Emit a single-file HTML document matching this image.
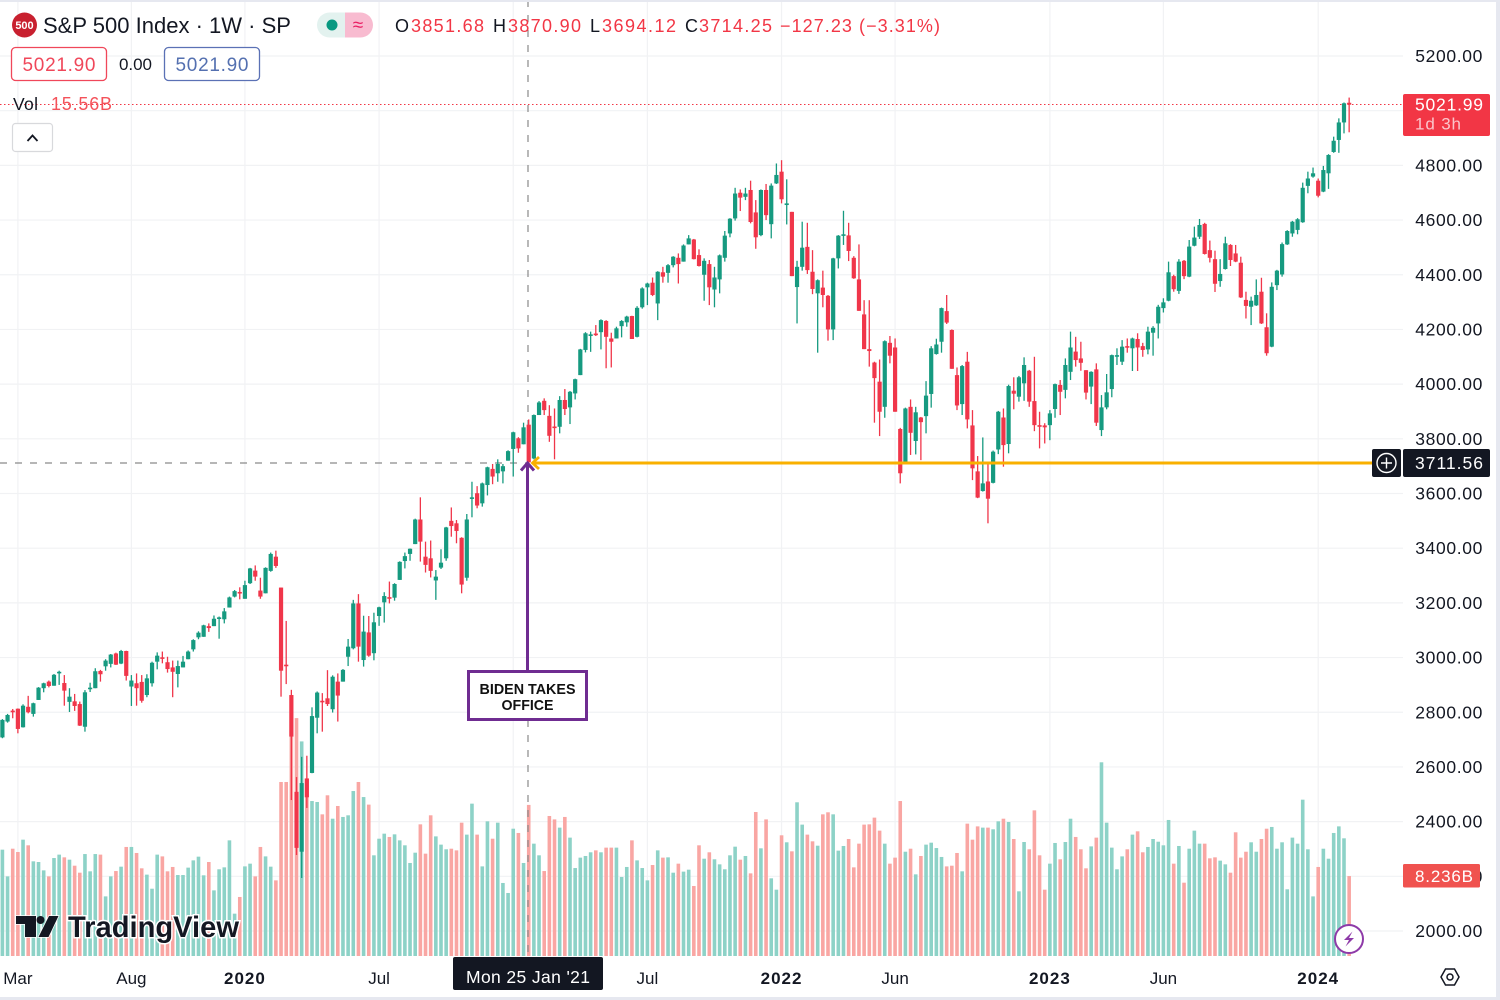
<!DOCTYPE html>
<html lang="en">
<head>
<meta charset="utf-8">
<title>S&amp;P 500 Index weekly chart</title>
<style>
html,body{margin:0;padding:0;background:#fff;width:1500px;height:1000px;overflow:hidden}
svg{display:block}
text{font-family:"Liberation Sans",sans-serif}
</style>
</head>
<body>
<svg id="chart" xmlns="http://www.w3.org/2000/svg" width="1500" height="1000" viewBox="0 0 1500 1000">
  <rect x="0" y="0" width="1500" height="1000" fill="#ffffff"/>
  <g id="grid"></g>
  <g id="volumes"></g>
  <g id="ylabels"></g>
  <g id="xlabels"></g>

  <line x1="528" y1="0" x2="528" y2="956" stroke="#8a8a8a" stroke-width="1.2" stroke-dasharray="7 8"/>
  <line x1="0" y1="463" x2="528" y2="463" stroke="#8a8a8a" stroke-width="1.2" stroke-dasharray="7 8"/>
  <line x1="0" y1="104.5" x2="1403" y2="104.5" stroke="#f23645" stroke-width="1" stroke-dasharray="1.5 2.5"/>

  <g id="candles"></g>

  <g>
    <circle cx="24.5" cy="25" r="12.5" fill="#c8202f"/>
    <text x="24.5" y="29" font-size="11" font-weight="bold" fill="#fff" text-anchor="middle">500</text>
    <text x="43" y="33" font-size="22" fill="#131722" textLength="248" lengthAdjust="spacingAndGlyphs">S&amp;P 500 Index · 1W · SP</text>
    <path d="M345 12.5H329.500a12.500 12.500 0 0 0 0 25H345Z" fill="#e3f2ef"/>
    <path d="M345 12.500H360.500a12.500 12.500 0 0 1 0 25H345Z" fill="#f8bbd0"/>
    <circle cx="332" cy="25" r="5.500" fill="#089981"/>
    <text x="358" y="31" font-size="19" fill="#e91e63" text-anchor="middle">≈</text>

    <text x="395" y="32" font-size="18" fill="#131722">O</text>
    <text x="411" y="32" font-size="18" fill="#f23645" textLength="73">3851.68</text>
    <text x="493" y="32" font-size="18" fill="#131722">H</text>
    <text x="508" y="32" font-size="18" fill="#f23645" textLength="73">3870.90</text>
    <text x="590" y="32" font-size="18" fill="#131722">L</text>
    <text x="602" y="32" font-size="18" fill="#f23645" textLength="74">3694.12</text>
    <text x="685" y="32" font-size="18" fill="#131722">C</text>
    <text x="699" y="32" font-size="18" fill="#f23645" textLength="73">3714.25</text>
    <text x="780" y="32" font-size="18" fill="#f23645" textLength="160">−127.23 (−3.31%)</text>

    <rect x="11.500" y="47.500" width="95" height="33" rx="4" fill="#fff" stroke="#f0475a" stroke-width="1.300"/>
    <text x="59" y="71" font-size="19" fill="#f0475a" text-anchor="middle" textLength="73">5021.90</text>
    <text x="119" y="70" font-size="17" fill="#131722" textLength="33">0.00</text>
    <rect x="164.500" y="47.500" width="95" height="33" rx="4" fill="#fff" stroke="#5b71b5" stroke-width="1.300"/>
    <text x="212" y="71" font-size="19" fill="#5470b0" text-anchor="middle" textLength="73">5021.90</text>

    <text x="13" y="110" font-size="17.500" fill="#131722" textLength="25">Vol</text>
    <text x="51" y="110" font-size="18" fill="#f4525a" textLength="61">15.56B</text>

    <rect x="12.500" y="123.500" width="40" height="28" rx="3" fill="#fff" stroke="#d8d9dc" stroke-width="1.200"/>
    <path d="M27.500 141 L32.500 135.500 L37.500 141" fill="none" stroke="#131722" stroke-width="1.800"/>
  </g>

  <g>
    <line x1="533" y1="463" x2="1373" y2="463" stroke="#f9b000" stroke-width="3"/>
    <path d="M539 457 L532.500 463 L539 469" fill="none" stroke="#f9b000" stroke-width="2.800"/>
  </g>
  <g>
    <line x1="527.500" y1="671" x2="527.500" y2="463" stroke="#6f2c91" stroke-width="3"/>
    <path d="M521 470.500 L527.500 463 L534 470.500" fill="none" stroke="#6f2c91" stroke-width="3"/>
    <rect x="468.500" y="671.500" width="118" height="48" fill="#fff" stroke="#6f2c91" stroke-width="3"/>
    <text x="527.500" y="694" font-size="15" font-weight="bold" fill="#111" text-anchor="middle" textLength="96" lengthAdjust="spacingAndGlyphs">BIDEN TAKES</text>
    <text x="527.500" y="710" font-size="15" font-weight="bold" fill="#111" text-anchor="middle" textLength="52" lengthAdjust="spacingAndGlyphs">OFFICE</text>
  </g>

  <g>
    <rect x="1403" y="94" width="87" height="42" rx="2" fill="#f23645"/>
    <text x="1415" y="110.500" font-size="17.500" fill="#fff" textLength="68">5021.99</text>
    <text x="1415" y="129.500" font-size="17" fill="#fbc4ca" textLength="46">1d 3h</text>
  </g>

  <g>
    <rect x="1372" y="449" width="29" height="28" rx="2" fill="#131722"/>
    <circle cx="1386.500" cy="463" r="9.500" fill="none" stroke="#fff" stroke-width="1.400"/>
    <path d="M1386.500 457.500V468.500M1381 463H1392" stroke="#fff" stroke-width="1.400"/>
    <rect x="1403" y="449" width="87" height="28" rx="2" fill="#131722"/>
    <text x="1415" y="469" font-size="17.500" fill="#fff" textLength="68">3711.56</text>
  </g>

  <g>
    <rect x="1403" y="864" width="77" height="23.500" rx="1.500" fill="#f0524f"/>
    <text x="1415" y="882" font-size="17" fill="#fff" textLength="58">8.236B</text>
  </g>

  <g>
    <path d="M16 916H36V937H25V924H16Z" fill="#131722" stroke="#fff" stroke-width="1.500" paint-order="stroke"/>
    <circle cx="40.500" cy="920" r="4" fill="#131722"/>
    <path d="M49 916H58.500L48.500 937H38.500Z" fill="#131722" stroke="#fff" stroke-width="1.500" paint-order="stroke"/>
    <text x="68" y="937" font-size="30" font-weight="bold" fill="#131722" stroke="#fff" stroke-width="3" paint-order="stroke" textLength="171" lengthAdjust="spacingAndGlyphs">TradingView</text>
  </g>

  <g>
    <rect x="453" y="957" width="150" height="33" rx="2" fill="#131722"/>
    <text x="528" y="983" font-size="17.500" fill="#fff" text-anchor="middle" textLength="124">Mon 25 Jan '21</text>
  </g>

  <g>
    <circle cx="1349" cy="939" r="14" fill="#fff" stroke="#8e3aa8" stroke-width="2"/>
    <path d="M1352.500 931.500 L1344 940 L1349 940 L1345.500 946.500 L1354 938 L1349 938 Z" fill="#8e3aa8"/>
  </g>
  <g>
    <path d="M1441 977 L1445.500 969 H1454.500 L1459 977 L1454.500 985 H1445.500 Z" fill="none" stroke="#131722" stroke-width="1.500"/>
    <circle cx="1450" cy="977" r="3" fill="none" stroke="#131722" stroke-width="1.500"/>
  </g>

  <rect x="0" y="0" width="1500" height="2" fill="#e6e8f0"/>
  <rect x="1496" y="0" width="4" height="1000" fill="#e6e8f0"/>
  <rect x="0" y="997" width="1500" height="3" fill="#e6e8f0"/>
</svg>

<script>
const priceTicks = [2000,2200,2400,2600,2800,3000,3200,3400,3600,3800,4000,4200,4400,4600,4800,5000,5200];
const timeTickBars = [3,25,47,73,99,125,151,173,203,225,255];
const timeTickLabels = ["Mar","Aug","2020","Jul","2021","Jul","2022","Jun","2023","Jun","2024"];
const timeTickBold = [false,false,true,false,true,false,true,false,true,false,true];

const opens = [
2708,2766,2806,2813,2745,2820,2794,2845,2888,2912,
2897,2945,2907,2838,2840,2830,2747,2886,2888,2951,
2968,2977,3015,2978,3024,2894,2906,2911,2863,2906,
2985,3001,2983,2964,2940,2964,2994,3030,3074,3076,
3115,3115,3144,3140,3183,3223,3240,3215,3272,3318,
3245,3235,3317,3369,3256,2974,2863,2509,2290,2558,
2578,2780,2842,2851,2811,2912,2912,3003,3034,3198,
2991,3092,3016,3152,3202,3221,3219,3284,3353,3379,
3415,3505,3369,3363,3282,3329,3363,3500,3491,3438,
3292,3582,3601,3564,3631,3690,3674,3681,3720,3763,
3802,3780,3851.68,3728,3887,3939,3884,3845,3844,3942,
3915,3966,4033,4125,4178,4185,4190,4231,4167,4167,
4212,4226,4249,4173,4281,4354,4371,4295,4409,4407,
4435,4462,4448,4511,4529,4472,4400,4439,4346,4383,
4462,4551,4606,4700,4685,4710,4628,4545,4710,4585,
4734,4777,4655,4630,4355,4429,4502,4411,4332,4353,
4323,4200,4460,4544,4544,4462,4383,4255,4128,4079,
4009,3917,4151,4134,3836,3716,3917,3792,3878,3883,
3964,4110,4155,4267,4198,4033,3927,4082,3849,3681,
3609,3644,3639,3761,3878,3781,3976,3954,4003,4049,
3938,3850,3849,3850,3909,3997,3979,4045,4119,4094,
4051,3991,4054,3832,3915,3982,4103,4082,4139,4131,
4165,4139,4127,4188,4222,4278,4305,4395,4341,4451,
4393,4506,4539,4586,4490,4457,4377,4421,4509,4478,
4444,4308,4283,4288,4338,4208,4137,4362,4401,4511,
4551,4564,4592,4725,4759,4744,4704,4771,4849,4893,
4957,5029];

const highs = [
2775,2794,2812,2814,2829,2860,2835,2892,2908,2916,
2940,2952,2936,2888,2867,2839,2881,2908,2961,2955,
2994,3013,3018,3028,3025,2936,2942,2936,2939,2985,
3019,3022,3003,2989,2989,3006,3026,3067,3096,3120,
3125,3154,3150,3181,3223,3247,3257,3281,3328,3337,
3292,3330,3384,3391,3256,3134,2882,2563,2637,2641,
2818,2876,2870,2954,2935,2942,2958,3068,3211,3232,
3153,3152,3164,3186,3239,3278,3272,3352,3384,3399,
3508,3586,3424,3428,3320,3396,3478,3549,3503,3440,
3525,3643,3627,3640,3698,3708,3725,3708,3758,3826,
3806,3859,3870.9,3889,3938,3948,3923,3911,3956,3982,
3975,4020,4129,4190,4192,4216,4237,4234,4188,4210,
4234,4250,4250,4285,4354,4371,4390,4413,4429,4439,
4468,4478,4511,4545,4531,4493,4460,4454,4429,4474,
4560,4607,4718,4712,4718,4744,4673,4712,4732,4734,
4807,4819,4749,4630,4451,4594,4590,4490,4383,4415,
4326,4462,4545,4634,4590,4468,4511,4307,4307,4082,
4090,4160,4176,4167,3840,3914,3944,3917,3880,4011,
4139,4166,4280,4326,4200,4061,4070,4118,3905,3737,
3805,3708,3757,3902,3911,3998,4025,4030,4098,4052,
4100,3899,3857,3905,4002,4015,4094,4192,4173,4155,
4051,4047,4076,3960,4037,4108,4131,4161,4167,4170,
4186,4151,4210,4212,4290,4314,4448,4400,4457,4454,
4527,4576,4604,4590,4525,4488,4457,4539,4512,4509,
4466,4338,4320,4383,4389,4259,4372,4418,4518,4563,
4597,4607,4737,4777,4792,4752,4798,4841,4905,4972,
5030,5048];

const lows = [
2705,2762,2778,2723,2744,2796,2784,2845,2873,2891,
2897,2900,2824,2801,2805,2750,2729,2874,2888,2912,
2952,2964,2973,2976,2916,2823,2824,2835,2855,2894,
2957,2979,2945,2855,2891,2964,2994,3022,3067,3076,
3094,3115,3069,3125,3183,3220,3213,3215,3269,3281,
3215,3235,3314,3328,2857,2903,2479,2278,2194,2450,
2577,2723,2729,2823,2799,2766,2912,2969,3030,2985,
2967,3003,2990,3116,3128,3198,3208,3284,3326,3354,
3415,3351,3311,3293,3211,3324,3354,3442,3418,3235,
3281,3513,3546,3552,3593,3634,3643,3637,3720,3662,
3749,3780,3694.12,3725,3887,3887,3789,3725,3820,3887,
3854,3944,4033,4116,4118,4176,4127,4058,4061,4167,
4171,4210,4165,4171,4276,4289,4322,4234,4371,4371,
4427,4368,4448,4511,4456,4430,4305,4289,4281,4332,
4448,4537,4598,4633,4673,4588,4495,4541,4600,4533,
4732,4661,4584,4395,4222,4415,4403,4329,4115,4281,
4159,4161,4423,4509,4450,4385,4268,4128,4064,3859,
3810,3877,4076,3899,3637,3711,3741,3743,3722,3820,
3914,4108,4115,4220,4056,3905,3887,3838,3649,3583,
3607,3491,3637,3744,3698,3747,3908,3936,3939,3917,
3828,3765,3783,3795,3877,3887,3948,4015,4064,4049,
3944,3927,3847,3810,3908,3952,4070,4070,4115,4048,
4048,4100,4109,4104,4167,4262,4303,4338,4330,4384,
4391,4504,4531,4474,4445,4337,4356,4419,4432,4446,
4315,4240,4216,4286,4220,4104,4135,4344,4393,4509,
4539,4548,4590,4698,4755,4683,4702,4714,4846,4846,
4917,4921];

const closes = [
2772,2790,2800,2739,2824,2800,2833,2890,2906,2896,
2937,2948,2879,2857,2823,2751,2873,2890,2950,2939,
2989,3011,2974,3024,2933,2916,2888,2842,2924,2981,
3007,2997,2958,2948,2969,2985,3022,3064,3091,3118,
3108,3142,3147,3169,3220,3243,3235,3265,3326,3296,
3223,3328,3379,3335,2952,2970,2711,2304,2541,2489,
2786,2872,2838,2830,2930,2861,2955,3040,3198,3040,
3095,3007,3129,3184,3225,3215,3269,3350,3371,3398,
3505,3424,3339,3317,3296,3347,3476,3481,3463,3267,
3505,3586,3556,3637,3696,3662,3708,3700,3755,3824,
3765,3842,3714.25,3887,3933,3905,3811,3842,3942,3909,
3972,4018,4127,4186,4182,4179,4234,4173,4155,4204,
4231,4247,4165,4279,4350,4368,4326,4411,4393,4435,
4466,4439,4507,4533,4457,4432,4451,4354,4390,4471,
4543,4605,4697,4682,4697,4593,4537,4710,4618,4726,
4765,4676,4661,4395,4429,4499,4417,4348,4380,4326,
4200,4460,4543,4548,4487,4387,4268,4128,4121,4022,
3899,4157,4104,3899,3674,3911,3822,3897,3861,3958,
4131,4145,4278,4225,4056,3922,4066,3871,3692,3585,
3637,3581,3753,3899,3777,3993,3965,4025,4070,3936,
3850,3844,3842,3893,4000,3972,4070,4134,4088,4078,
3969,4045,3859,3915,3970,4106,4106,4137,4134,4167,
4134,4125,4192,4206,4283,4299,4409,4347,4448,4395,
4503,4536,4582,4476,4462,4367,4403,4515,4454,4448,
4317,4286,4305,4326,4222,4113,4356,4415,4512,4560,
4594,4603,4718,4752,4771,4689,4783,4838,4890,4957,
5027,5021.9];

const volumes = [
10.95,8.20,11.05,10.71,11.98,11.40,9.75,9.68,8.82,8.20,
10.09,10.44,10.16,9.92,9.30,8.58,10.50,8.72,10.50,10.44,
6.14,8.20,8.75,9.20,11.23,11.23,10.61,9.03,8.38,6.93,
10.44,10.26,8.72,9.17,8.34,8.34,9.10,9.85,10.23,8.31,
9.68,6.76,8.93,9.13,11.91,4.36,6.08,9.23,9.51,8.20,
11.23,10.26,9.20,7.79,17.92,17.92,23.8,24.5,22.1,18.1,
15.96,15.86,14.59,16.55,14.14,15.45,14.32,14.49,16.99,17.92,
16.37,15.59,10.37,12.08,12.60,12.26,12.53,11.91,11.40,9.58,
10.64,13.56,10.54,14.49,12.32,11.47,10.99,11.05,10.88,13.73,
12.50,15.69,12.50,9.23,13.87,12.08,13.73,7.52,6.49,13.11,
12.67,9.58,15.56,11.57,10.37,8.75,14.42,14.07,13.22,14.32,
12.19,9.06,10.13,10.30,10.68,10.88,10.68,11.16,11.16,11.16,
8.14,9.17,11.91,9.85,9.06,7.79,9.37,10.88,10.13,10.16,
8.58,9.51,8.69,8.89,7.21,11.40,10.02,10.68,9.96,9.44,
8.93,10.37,11.26,9.92,10.30,8.51,14.83,11.09,14.07,8.00,
6.83,12.43,11.71,10.78,15.83,13.53,12.50,11.81,11.36,14.59,
14.80,14.59,10.85,11.33,12.05,9.13,11.57,13.53,13.56,14.25,
12.91,11.57,9.51,10.13,15.96,10.74,11.05,8.41,10.30,11.47,
11.67,11.12,10.20,9.23,9.30,10.61,8.72,13.63,11.98,13.35,
13.22,13.22,13.05,13.87,14.14,13.80,12.05,6.66,11.74,10.99,
15.00,10.37,6.83,9.51,11.64,9.96,11.74,14.14,12.26,10.99,
9.03,11.29,12.19,19.95,13.73,11.16,8.93,10.26,10.99,12.50,
12.84,10.68,11.23,12.05,11.77,11.40,14.01,9.51,11.33,7.55,
11.05,12.91,11.57,11.57,10.06,10.16,9.82,9.44,8.58,12.74,
10.13,10.74,11.71,10.74,12.05,13.11,13.29,11.05,11.71,6.87,
12.19,11.57,16.10,10.99,6.14,9.17,11.05,10.02,12.67,13.35,
12.12,8.236];

const NS = 'http://www.w3.org/2000/svg';
const xScale = i => 2.4 + i * 5.16;
const yScale = p => 56 + (5200 - p) * 0.27344;
const volBase = 956;
const volHeight = v => v * 9.71;
const GREEN = '#169a80', RED = '#f0364a', GREEN_V = '#8dd2c7', RED_V = '#f9a6a3';

function mk(tag, parent, attrs) {
  const el = document.createElementNS(NS, tag);
  for (const k in attrs) el.setAttribute(k, attrs[k]);
  parent.appendChild(el);
  return el;
}

const gridG = document.getElementById('grid');
const yLabG = document.getElementById('ylabels');
const xLabG = document.getElementById('xlabels');
const volG = document.getElementById('volumes');
const candG = document.getElementById('candles');

priceTicks.forEach(p => {
  const y = yScale(p);
  const line = mk('line', gridG, {x1: 0, x2: 1403, y1: y, y2: y, stroke: '#f1f2f4', 'stroke-width': 1.2});
  
  
  const t = mk('text', yLabG, {x: 1483, y: y + 6, 'font-size': 17.5, fill: '#131722', 'text-anchor': 'end', 'letter-spacing': 0.65});
  
  
  t.textContent = p.toFixed(2);
});

timeTickBars.forEach((b, k) => {
  const x = xScale(b);
  const line = mk('line', gridG, {x1: x, x2: x, y1: 0, y2: 956, stroke: '#f1f2f4', 'stroke-width': 1.2});
  
  
  const t = mk('text', xLabG, {x: x, y: 984, 'font-size': 17, fill: '#131722', 'text-anchor': 'middle'});
  if (timeTickBold[k]) { t.setAttribute('font-weight', 'bold'); t.setAttribute('letter-spacing', '1'); }
  
  
  t.textContent = timeTickLabels[k];
});

volumes.forEach((v, i) => {
  const up = closes[i] >= opens[i];
  const h = volHeight(v);
  const r = mk('rect', volG, {x: xScale(i) - 1.8, y: volBase - h, width: 3.6, height: h, fill: up ? GREEN_V : RED_V});
  
  
});

opens.forEach((o, i) => {
  const c = closes[i];
  const up = c >= o;
  const col = up ? GREEN : RED;
  const x = xScale(i);
  const g = mk('g', candG, {});
  
  
  mk('line', g, {x1: x, x2: x, y1: yScale(highs[i]), y2: yScale(lows[i]), stroke: col, 'stroke-width': 1.3});
  const top = yScale(Math.max(o, c));
  const h = Math.max(1.6, yScale(Math.min(o, c)) - top);
  mk('rect', g, {x: x - 2.1, y: top, width: 4.2, height: h, fill: col});
});
</script>
</body>
</html>
